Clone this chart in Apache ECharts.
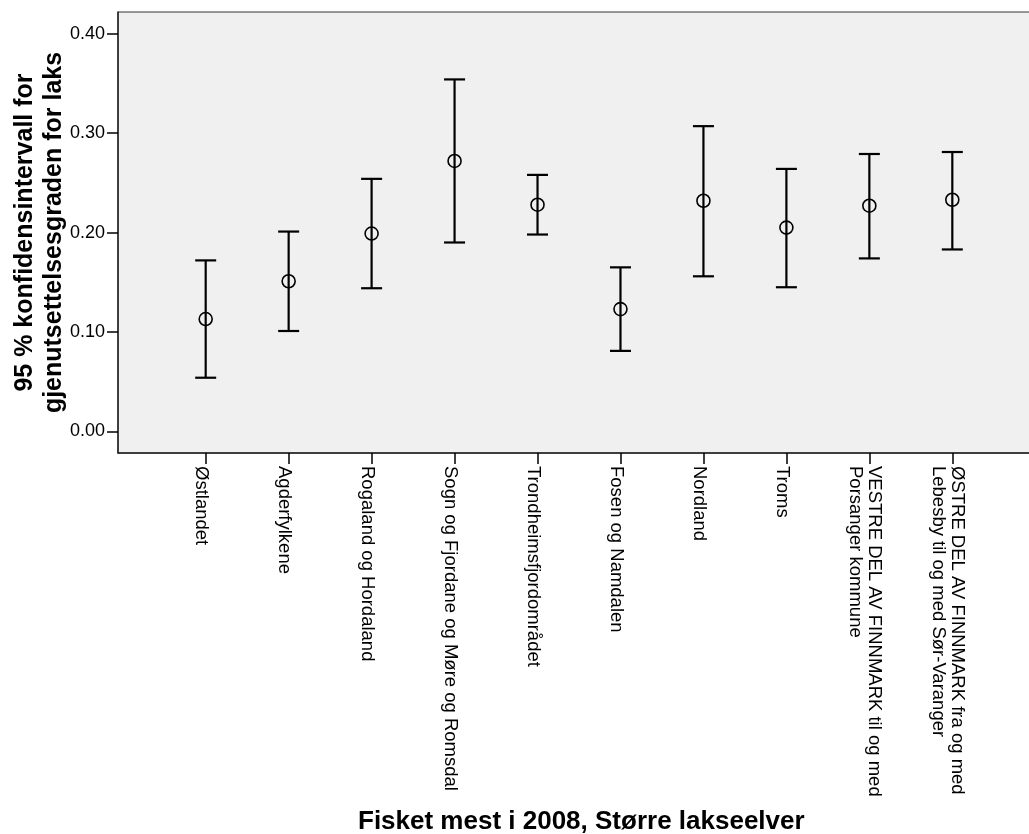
<!DOCTYPE html>
<html>
<head>
<meta charset="utf-8">
<script src="https://cdn.jsdelivr.net/npm/echarts@6/dist/echarts.min.js"></script>
<style>
html,body{margin:0;padding:0;background:#fff;}
#chart{width:1029px;height:834px;}
</style>
</head>
<body>
<div id="chart"></div>
<script>
const categories = [
  "Østlandet",
  "Agderfylkene",
  "Rogaland og Hordaland",
  "Sogn og Fjordane og Møre og Romsdal",
  "Trondheimsfjordområdet",
  "Fosen og Namdalen",
  "Nordland",
  "Troms",
  "VESTRE DEL AV FINNMARK til og med\nPorsanger kommune",
  "ØSTRE DEL AV FINNMARK fra og med\nLebesby til og med Sør-Varanger"
];
const meanValues  = [0.113, 0.151, 0.199, 0.272, 0.228, 0.123, 0.232, 0.205, 0.227, 0.233];
const lowerValues = [0.054, 0.101, 0.144, 0.190, 0.198, 0.081, 0.156, 0.145, 0.174, 0.183];
const upperValues = [0.172, 0.201, 0.254, 0.354, 0.258, 0.165, 0.307, 0.264, 0.279, 0.281];
const yTicks = [0.00, 0.10, 0.20, 0.30, 0.40];
const yAxisTitle = "95 % konfidensintervall for\ngjenutsettelsesgraden for laks";
const xAxisTitle = "Fisket mest i 2008, Større lakseelver";

const catIdx = categories.map((c, i) => i);
const barData = catIdx.map(i => [i, lowerValues[i], upperValues[i]]);
const meanData = catIdx.map(i => [i, meanValues[i]]);

const FONT = "'Liberation Sans', Arial, sans-serif";
const chart = echarts.init(document.getElementById('chart'), null, {renderer: 'canvas'});
chart.setOption({
  animation: false,
  backgroundColor: '#ffffff',
  title: {
    text: xAxisTitle,
    left: 358,
    top: 809,
    padding: 0,
    textStyle: {fontFamily: FONT, fontSize: 26, fontWeight: 'bold', color: '#000'}
  },
  grid: {
    left: 118, top: 12, width: 922, height: 441,
    containLabel: false,
    outerBoundsMode: 'none',
    show: true, backgroundColor: '#f0f0f0', borderColor: '#333', borderWidth: 1
  },
  xAxis: {
    type: 'value',
    min: -1.057, max: 10.057,
    splitLine: {show: false},
    axisLine: {show: true, onZero: false, lineStyle: {color: '#222', width: 1.5}},
    axisTick: {show: true, length: 11, customValues: catIdx, lineStyle: {color: '#000', width: 1.5}},
    axisLabel: {
      customValues: catIdx,
      rotate: -90,
      margin: 13,
      hideOverlap: false,
      fontFamily: FONT, fontSize: 18.5, color: '#000', lineHeight: 19,
      formatter: v => categories[Math.round(v)].split('\n').map(s => '{a|' + s + '}').join('\n'),
      rich: {
        a: {fontFamily: FONT, fontSize: 18.5, color: '#000', lineHeight: 19, padding: [0, 0, 0, 0]}
      },
      padding: [9, 0, 0, 0]
    }
  },
  yAxis: {
    type: 'value',
    min: -0.0217, max: 0.4218,
    splitLine: {show: false},
    axisLine: {show: true, onZero: false, lineStyle: {color: '#222', width: 1.5}},
    axisTick: {show: true, length: 11, customValues: yTicks, lineStyle: {color: '#000', width: 1.5}},
    axisLabel: {
      customValues: yTicks,
      margin: 13,
      fontFamily: FONT, fontSize: 18, color: '#000',
      formatter: v => v.toFixed(2)
    },
    name: yAxisTitle,
    nameLocation: 'middle',
    nameRotate: 90,
    nameGap: 49,
    nameMoveOverlap: false,
    nameTextStyle: {fontFamily: FONT, fontSize: 25, fontWeight: 'bold', color: '#000', lineHeight: 29}
  },
  series: [
    {
      type: 'custom',
      data: barData,
      z: 3,
      renderItem: function (params, api) {
        const x = api.value(0);
        const lo = api.coord([x, api.value(1)]);
        const hi = api.coord([x, api.value(2)]);
        const hw = 10.5;
        const st = {stroke: '#000', lineWidth: 2.2};
        return {
          type: 'group',
          children: [
            {type: 'line', shape: {x1: lo[0], y1: lo[1], x2: hi[0], y2: hi[1]}, style: st},
            {type: 'line', shape: {x1: lo[0] - hw, y1: lo[1], x2: lo[0] + hw, y2: lo[1]}, style: st},
            {type: 'line', shape: {x1: hi[0] - hw, y1: hi[1], x2: hi[0] + hw, y2: hi[1]}, style: st}
          ]
        };
      }
    },
    {
      type: 'scatter',
      data: meanData,
      z: 4,
      symbol: 'circle',
      symbolSize: 13,
      itemStyle: {color: 'rgba(0,0,0,0)', borderColor: '#000', borderWidth: 1.6, opacity: 1}
    }
  ]
});
</script>
</body>
</html>
